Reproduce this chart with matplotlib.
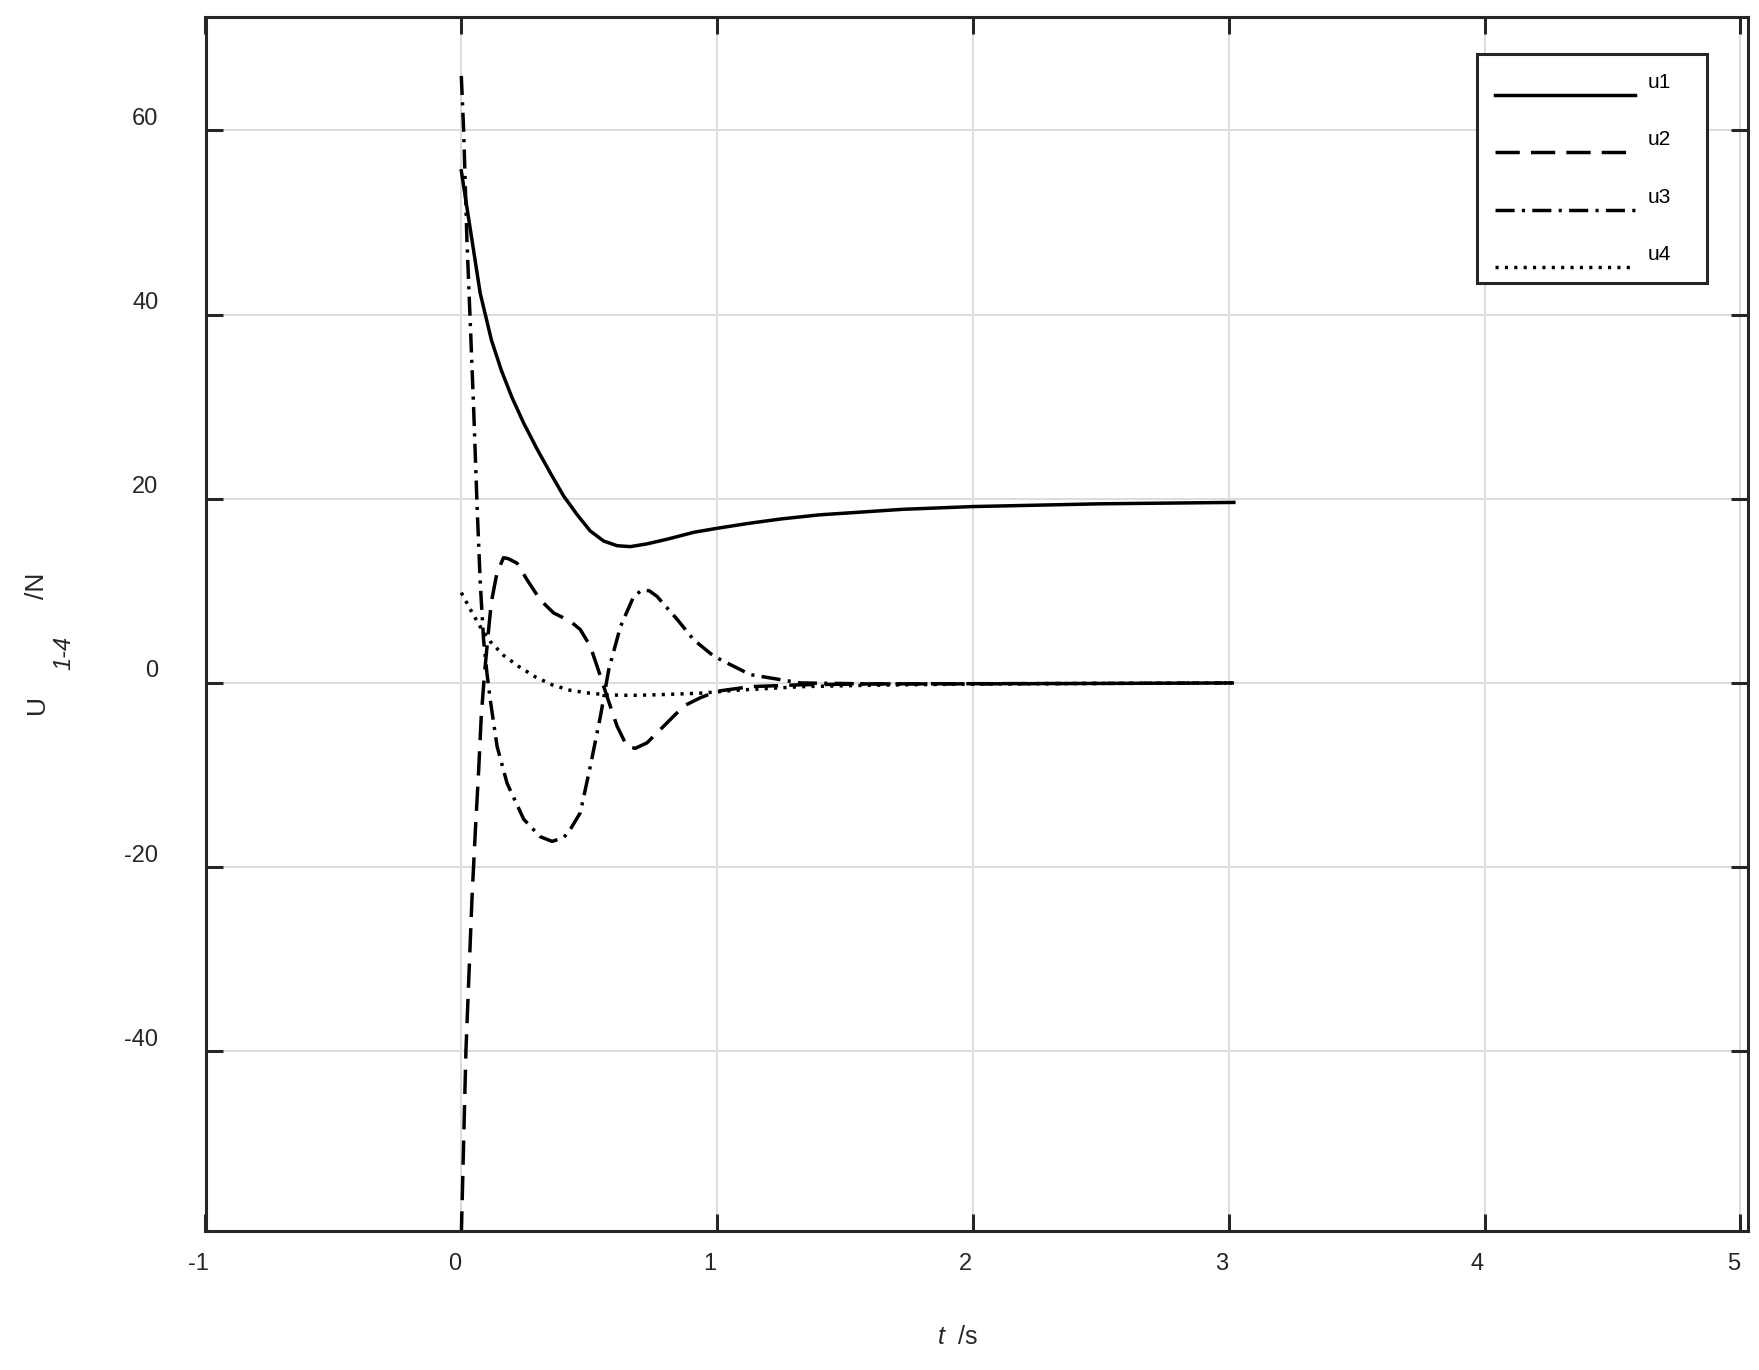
#!/usr/bin/env python3
"""Control inputs u1..u4 of the closed-loop simulation, plotted over time."""

import matplotlib
matplotlib.use("Agg")
import matplotlib.pyplot as plt
from matplotlib.legend_handler import HandlerLine2D
from matplotlib.transforms import Affine2D, ScaledTranslation

# values
t_u1 = [0.0, 0.026, 0.074, 0.118, 0.157, 0.198, 0.244, 0.296, 0.348, 0.400,
        0.452, 0.504, 0.557, 0.609, 0.661, 0.726, 0.804, 0.908, 1.002, 1.117,
        1.248, 1.4, 1.725, 2.0, 2.5, 3.02]
u1 = [55.6, 50.9, 42.3, 37.2, 33.9, 31.0, 28.2, 25.4, 22.8, 20.3,
      18.3, 16.5, 15.4, 14.9, 14.8, 15.1, 15.6, 16.35, 16.8, 17.3,
      17.8, 18.25, 18.85, 19.15, 19.45, 19.6]

t_u2 = [0.0, 0.018, 0.042, 0.055, 0.068, 0.078, 0.091, 0.103, 0.117, 0.139,
        0.165, 0.183, 0.218, 0.257, 0.309, 0.361, 0.426, 0.465, 0.504, 0.531,
        0.57, 0.609, 0.648, 0.68, 0.726, 0.791, 0.87, 0.935, 1.0, 1.13, 1.33,
        1.6, 2.0, 2.5, 3.02]
u2 = [-60.0, -40.0, -23.2, -16.0, -9.4, -3.6, 1.1, 4.7, 8.7, 11.9,
      13.6, 13.5, 13.0, 11.2, 9.0, 7.6, 6.7, 5.8, 4.0, 1.8,
      -1.5, -4.7, -6.9, -7.1, -6.5, -4.7, -2.5, -1.6, -0.9, -0.4, -0.2,
      -0.1, -0.08, -0.05, 0.0]

t_u3 = [0.0, 0.009, 0.022, 0.035, 0.048, 0.062, 0.074, 0.087, 0.100, 0.113,
        0.140, 0.179, 0.244, 0.309, 0.355, 0.40, 0.426, 0.465, 0.504, 0.544,
        0.576, 0.622, 0.674, 0.707, 0.735, 0.765, 0.844, 0.908, 0.987, 1.13,
        1.326, 1.6, 2.0, 2.5, 3.02]
u3 = [65.9, 60.1, 48.1, 39.1, 30.0, 19.0, 10.9, 4.7, 1.1, -1.8,
      -6.9, -10.9, -14.8, -16.7, -17.2, -16.8, -15.9, -14.1, -9.1, -3.6,
      1.4, 6.1, 9.4, 10.1, 10.0, 9.4, 6.9, 4.7, 2.9, 0.9,
      0.0, -0.1, -0.1, -0.05, 0.0]

t_u4 = [0.0, 0.035, 0.074, 0.113, 0.165, 0.224, 0.29, 0.355, 0.426, 0.5,
        0.575, 0.66, 0.745, 0.85, 0.94, 1.07, 1.2, 1.33, 1.5, 1.72, 2.0,
        2.5, 3.02]
u4 = [9.8, 8.0, 6.1, 4.5, 3.0, 1.8, 0.65, -0.2, -0.8, -1.1,
      -1.3, -1.35, -1.3, -1.2, -1.1, -0.8, -0.6, -0.4, -0.3, -0.2, -0.12,
      -0.05, 0.0]

series_names = ["u1", "u2", "u3", "u4"]
x_ticks = [-1, 0, 1, 2, 3, 4, 5]
y_ticks = [-40, -20, 0, 20, 40, 60]

LW = 2.5
AX_LW = 2.2
DARK = "#262626"
STYLES = {
    "u1": "-",
    "u2": (0, (7.0, 3.2)),
    "u3": (0, (5.5, 2.1, 0.9, 2.1)),
    "u4": (0, (0.9, 1.8)),
}


class LoweredLine(HandlerLine2D):
    """Legend handle drawn a bit below the label, as in the original figure."""

    def create_artists(self, legend, orig_handle, xdescent, ydescent,
                       width, height, fontsize, trans):
        shift = Affine2D().translate(0, -0.68 * fontsize)
        return super().create_artists(legend, orig_handle, xdescent, ydescent,
                                      width, height, fontsize, shift + trans)


def main() -> None:
    plt.rcParams["font.family"] = ["Liberation Sans", "DejaVu Sans"]
    plt.rcParams["axes.unicode_minus"] = False
    plt.rcParams["mathtext.fontset"] = "custom"
    plt.rcParams["mathtext.it"] = "Liberation Sans:italic"
    plt.rcParams["mathtext.rm"] = "Liberation Sans"

    W, H = 1759, 1370
    fig = plt.figure(figsize=(W / 100, H / 100), dpi=100)
    ax = fig.add_axes([205.5 / W, 1 - 1231 / H, 1542.5 / W, 1214 / H])

    data = {"u1": (t_u1, u1), "u2": (t_u2, u2), "u3": (t_u3, u3), "u4": (t_u4, u4)}
    for name in series_names:
        t, u = data[name]
        ax.plot(t, u, color="black", lw=LW, linestyle=STYLES[name], label=name)

    ax.set_xlim(-1, 5.03)
    ax.set_ylim(-59.5, 72.3)
    ax.set_xticks(x_ticks)
    ax.set_yticks(y_ticks)
    ax.set_xticklabels([str(v) for v in x_ticks])
    ax.set_yticklabels([str(v) for v in y_ticks])

    ax.grid(True, color="#dcdcdc", lw=1.4)
    ax.set_axisbelow(True)
    for sp in ax.spines.values():
        sp.set_color(DARK)
        sp.set_linewidth(AX_LW)
    ax.tick_params(direction="in", length=12, width=AX_LW, color=DARK,
                   top=True, right=True, labelsize=17, labelcolor=DARK)
    ax.tick_params(axis="y", pad=34)
    ax.tick_params(axis="x", pad=16)

    # MATLAB-style label placement: y labels sit a little above their ticks
    up = ScaledTranslation(0, 0.14, fig.dpi_scale_trans)
    for lab in ax.get_yticklabels():
        lab.set_transform(lab.get_transform() + up)
    left = ScaledTranslation(-0.07, 0, fig.dpi_scale_trans)
    for lab in ax.get_xticklabels():
        lab.set_transform(lab.get_transform() + left)

    ax.set_xlabel(r"$t$  /s", fontsize=18, color=DARK)
    ax.xaxis.set_label_coords((958 - 205.5) / 1542.5, -(1337 - 1231) / 1214)
    ax.xaxis.label.set_va("center")

    fig.text(37 / W, 1 - 704 / H, "U", rotation=90, fontsize=19,
             ha="center", va="center", color=DARK)
    fig.text(64 / W, 1 - 653 / H, "1-4", rotation=90, fontsize=17,
             style="italic", ha="center", va="center", color=DARK)
    fig.text(37 / W, 1 - 586 / H, "/N", rotation=90, fontsize=19,
             ha="center", va="center", color=DARK)

    leg = ax.legend(loc="upper left", bbox_to_anchor=(0.824, 0.7743, 0.1494, 0.1952),
                    mode="expand", borderaxespad=0, fontsize=15,
                    handlelength=6.7, handletextpad=0.6, labelspacing=1.85,
                    borderpad=0.9, fancybox=False, framealpha=1,
                    handler_map={plt.Line2D: LoweredLine()})
    leg.get_frame().set_edgecolor(DARK)
    leg.get_frame().set_linewidth(AX_LW)

    fig.savefig("out.png", dpi=100)


if __name__ == "__main__":
    main()
